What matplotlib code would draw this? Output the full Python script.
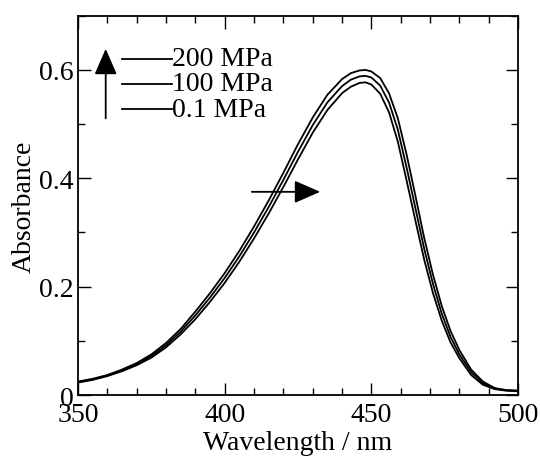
import matplotlib
matplotlib.use("Agg")
import matplotlib.pyplot as plt

# wavelength grid (nm) and absorbance
wavelength = [350, 355, 360, 365, 370, 375, 380, 385, 390, 395, 400, 405, 410, 415,
              420, 425, 430, 435, 440, 443, 446, 448, 450, 453, 456, 459, 462, 465,
              468, 471, 474, 477, 480, 484, 488, 492, 496, 500]

abs_01MPa = [0.023, 0.028, 0.035, 0.044, 0.055, 0.069, 0.088, 0.112, 0.140, 0.172,
             0.207, 0.246, 0.289, 0.335, 0.384, 0.435, 0.484, 0.526, 0.557, 0.569,
             0.576, 0.577, 0.573, 0.556, 0.522, 0.468, 0.396, 0.322, 0.250, 0.188,
             0.137, 0.097, 0.068, 0.037, 0.019, 0.011, 0.008, 0.007]

abs_100MPa = [0.024, 0.029, 0.036, 0.045, 0.057, 0.072, 0.092, 0.117, 0.147, 0.180,
              0.216, 0.256, 0.300, 0.347, 0.397, 0.449, 0.498, 0.540, 0.570, 0.582,
              0.588, 0.589, 0.586, 0.571, 0.540, 0.490, 0.420, 0.345, 0.270, 0.205,
              0.150, 0.107, 0.075, 0.042, 0.022, 0.012, 0.009, 0.008]

abs_200MPa = [0.025, 0.030, 0.037, 0.047, 0.059, 0.075, 0.096, 0.122, 0.154, 0.188,
              0.225, 0.266, 0.311, 0.359, 0.410, 0.463, 0.512, 0.554, 0.583, 0.594,
              0.599, 0.600, 0.597, 0.585, 0.557, 0.511, 0.444, 0.368, 0.290, 0.222,
              0.164, 0.118, 0.083, 0.047, 0.025, 0.013, 0.009, 0.008]

labels = ["200 MPa", "100 MPa", "0.1 MPa"]

plt.rcParams["font.family"] = ["Liberation Serif", "DejaVu Serif"]
plt.rcParams["font.size"] = 20

fig = plt.figure(figsize=(5.4, 4.6), dpi=100)
ax = fig.add_axes([0.1444, 0.139, 0.815, 0.8247])

for a in (abs_01MPa, abs_100MPa, abs_200MPa):
    ax.plot(wavelength, a, color="black", lw=1.3)

ax.set_xlim(350, 500)
ax.set_ylim(0, 0.7)
ax.set_xticks([350, 400, 450, 500])
ax.set_xticks(range(350, 501, 10), minor=True)
ax.set_yticks([0, 0.2, 0.4, 0.6])
ax.set_yticklabels(["0", "0.2", "0.4", "0.6"])
ax.set_yticks([0.1, 0.3, 0.5, 0.7], minor=True)
ax.tick_params(which="both", direction="in", top=True, right=True, width=1.0)
ax.tick_params(which="major", length=9)
ax.tick_params(axis="x", which="major", pad=5)
ax.tick_params(axis="y", which="major", pad=3)
ax.tick_params(which="minor", length=5)
for s in ax.spines.values():
    s.set_linewidth(1.3)

ax.set_xlabel("Wavelength / nm", labelpad=2)
ax.set_ylabel("Absorbance", labelpad=2)

# hand-drawn legend
leg_y = [0.886, 0.820, 0.754]
for y, lab in zip(leg_y, labels):
    ax.plot([0.10, 0.214], [y, y], color="black", lw=1.3, transform=ax.transAxes)
    ax.text(0.214, y, lab, transform=ax.transAxes, ha="left", va="center")

# pressure arrow (up) and shift arrow (right)
ax.annotate("", xy=(0.063, 0.92), xytext=(0.063, 0.722),
            xycoords="axes fraction", textcoords="axes fraction",
            arrowprops=dict(arrowstyle="-|>,head_length=0.8,head_width=0.35",
                            color="black", lw=1.3))
ax.annotate("", xy=(433.5, 0.375), xytext=(408.3, 0.375),
            arrowprops=dict(arrowstyle="-|>,head_length=0.8,head_width=0.35",
                            color="black", lw=1.3))

fig.savefig("out.png", dpi=100)
